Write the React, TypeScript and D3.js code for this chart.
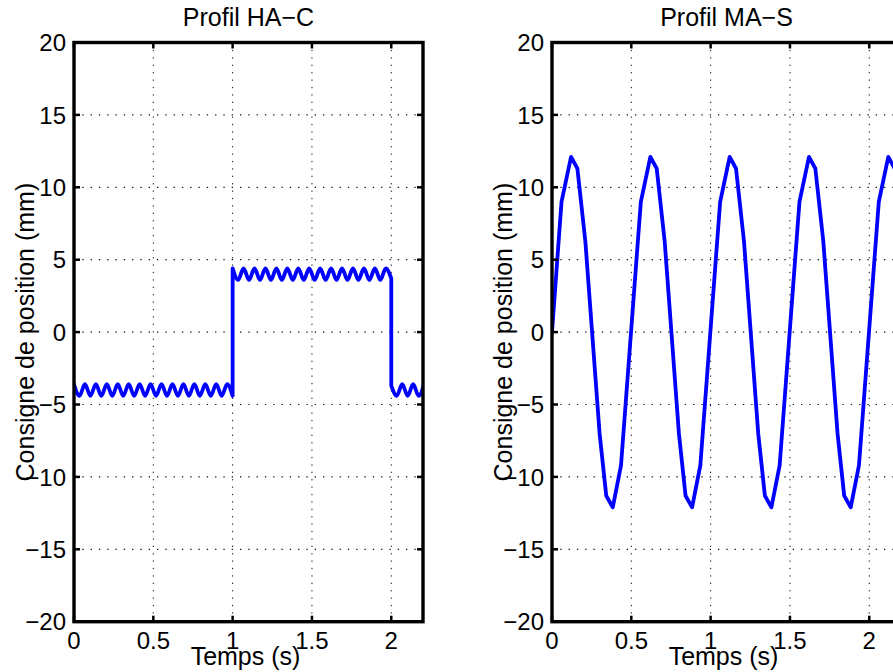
import React from 'react';
import * as d3 from 'd3';

const W = 893;
const H = 672;

const xTicks = [0, 0.5, 1, 1.5, 2];
const yTicks = [-20, -15, -10, -5, 0, 5, 10, 15, 20];
const xDomain = [0, 2.2];
const yDomain = [-20, 20];

const titles = ['Profil HA\u2212C', 'Profil MA\u2212S'];
const xLabel = 'Temps (s)';
const yLabel = 'Consigne de position (mm)';

// Profil HA-C : ripple extremes (repeated time = step)
const haTimes = [
  0, 0.0345, 0.069, 0.1034, 0.1379, 0.1724, 0.2069, 0.2414, 0.2759, 0.3103,
  0.3448, 0.3793, 0.4138, 0.4483, 0.4828, 0.5172, 0.5517, 0.5862, 0.6207, 0.6552,
  0.6897, 0.7241, 0.7586, 0.7931, 0.8276, 0.8621, 0.8966, 0.931, 0.9655, 1.0,
  1.0, 1.0345, 1.069, 1.1034, 1.1379, 1.1724, 1.2069, 1.2414, 1.2759, 1.3103,
  1.3448, 1.3793, 1.4138, 1.4483, 1.4828, 1.5172, 1.5517, 1.5862, 1.6207, 1.6552,
  1.6897, 1.7241, 1.7586, 1.7931, 1.8276, 1.8621, 1.8966, 1.931, 1.9655, 2.0,
  2.0, 2.0345, 2.069, 2.1034, 2.1379, 2.1724, 2.2069,
];
const haValues = [
  -3.6, -4.4, -3.6, -4.4, -3.6, -4.4, -3.6, -4.4, -3.6, -4.4,
  -3.6, -4.4, -3.6, -4.4, -3.6, -4.4, -3.6, -4.4, -3.6, -4.4,
  -3.6, -4.4, -3.6, -4.4, -3.6, -4.4, -3.6, -4.4, -3.6, -4.4,
  4.4, 3.6, 4.4, 3.6, 4.4, 3.6, 4.4, 3.6, 4.4, 3.6,
  4.4, 3.6, 4.4, 3.6, 4.4, 3.6, 4.4, 3.6, 4.4, 3.6,
  4.4, 3.6, 4.4, 3.6, 4.4, 3.6, 4.4, 3.6, 4.4, 3.7,
  -3.7, -4.4, -3.6, -4.4, -3.6, -4.4, -3.6,
];

// Profil MA-S : polyline vertices
const maTimes = [
  0.0, 0.06, 0.12, 0.16, 0.21, 0.3, 0.342, 0.383, 0.435,
  0.56, 0.62, 0.66, 0.71, 0.8, 0.842, 0.883, 0.935,
  1.06, 1.12, 1.16, 1.21, 1.3, 1.342, 1.383, 1.435,
  1.56, 1.62, 1.66, 1.71, 1.8, 1.842, 1.883, 1.935,
  2.06, 2.12, 2.16, 2.21,
];
const maValues = [
  0, 9.0, 12.1, 11.3, 6.3, -7.0, -11.3, -12.1, -9.2,
  9.0, 12.1, 11.3, 6.3, -7.0, -11.3, -12.1, -9.2,
  9.0, 12.1, 11.3, 6.3, -7.0, -11.3, -12.1, -9.2,
  9.0, 12.1, 11.3, 6.3, -7.0, -11.3, -12.1, -9.2,
  9.0, 12.1, 11.3, 6.3,
];

const FONT = '"Liberation Sans", Arial, Helvetica, sans-serif';
const FS_TICK = 24;
const FS_LABEL = 25;

function fmt(v: number) {
  return String(v).replace('-', '\u2212');
}

type PanelProps = {
  id: string;
  left: number;
  right: number;
  top: number;
  bottom: number;
  title: string;
  times: number[];
  values: number[];
  smooth: boolean;
};

function Panel({ id, left, right, top, bottom, title, times, values, smooth }: PanelProps) {
  const x = d3.scaleLinear().domain(xDomain).range([left, right]);
  const y = d3.scaleLinear().domain(yDomain).range([bottom, top]);

  // split into segments where time repeats (vertical steps)
  const segments: [number, number][][] = [];
  let cur: [number, number][] = [];
  times.forEach((t, i) => {
    if (i > 0 && t === times[i - 1]) {
      segments.push(cur);
      cur = [];
    }
    cur.push([t, values[i]]);
  });
  segments.push(cur);

  const line = d3
    .line<[number, number]>()
    .x((d) => x(d[0]))
    .y((d) => y(d[1]))
    .curve(smooth ? d3.curveMonotoneX : d3.curveLinear);

  const path = segments
    .map((seg, i) => {
      const s = line(seg) || '';
      return i === 0 ? s : 'L' + s.slice(1);
    })
    .join('');

  const cx = (left + right) / 2;
  const cy = (top + bottom) / 2;
  const tickLen = 6;
  const grid = '#111';

  return (
    <g>
      <defs>
        <clipPath id={id}>
          <rect x={left} y={top} width={right - left} height={bottom - top} />
        </clipPath>
      </defs>
      {/* grid */}
      {xTicks.map((t) => (
        <line key={'gx' + t} x1={x(t)} x2={x(t)} y1={top} y2={bottom}
          stroke={grid} strokeWidth={1} strokeDasharray="1.3 6.1" />
      ))}
      {yTicks.map((t) => (
        <line key={'gy' + t} x1={left} x2={right} y1={y(t)} y2={y(t)}
          stroke={grid} strokeWidth={1.2} strokeDasharray="1.3 7" />
      ))}
      {/* data */}
      <path d={path} fill="none" stroke="#0000ff" strokeWidth={3.8}
        strokeLinejoin="round" strokeLinecap="round" clipPath={`url(#${id})`} />
      {/* ticks */}
      {xTicks.map((t) => (
        <g key={'tx' + t}>
          <line x1={x(t)} x2={x(t)} y1={bottom} y2={bottom - tickLen} stroke="#000" strokeWidth={2.5} />
          <line x1={x(t)} x2={x(t)} y1={top} y2={top + tickLen} stroke="#000" strokeWidth={2.5} />
        </g>
      ))}
      {yTicks.map((t) => (
        <g key={'ty' + t}>
          <line x1={left} x2={left + tickLen} y1={y(t)} y2={y(t)} stroke="#000" strokeWidth={2.5} />
          <line x1={right} x2={right - tickLen} y1={y(t)} y2={y(t)} stroke="#000" strokeWidth={2.5} />
        </g>
      ))}
      {/* box */}
      <rect x={left} y={top} width={right - left} height={bottom - top}
        fill="none" stroke="#000" strokeWidth={3.4} />
      {/* tick labels */}
      {xTicks.map((t) => (
        <text key={'lx' + t} x={x(t)} y={bottom + 27} textAnchor="middle"
          fontFamily={FONT} fontSize={FS_TICK} fill="#000">{fmt(t)}</text>
      ))}
      {yTicks.map((t) => (
        <text key={'ly' + t} x={left - 8} y={y(t)} dy="0.36em" textAnchor="end"
          fontFamily={FONT} fontSize={FS_TICK} fill="#000">{fmt(t)}</text>
      ))}
      {/* labels */}
      <text x={cx} y={26} textAnchor="middle" fontFamily={FONT} fontSize={FS_LABEL} fill="#000">{title}</text>
      <text x={cx - 3} y={bottom + 43} textAnchor="middle" fontFamily={FONT} fontSize={FS_LABEL} fill="#000">{xLabel}</text>
      <text transform={`translate(${left - 40},${cy}) rotate(-90)`} textAnchor="middle"
        fontFamily={FONT} fontSize={FS_LABEL} fill="#000">{yLabel}</text>
    </g>
  );
}

export default function App() {
  const top = 42.5;
  const bottom = 621.7;
  return (
    <svg width={W} height={H} viewBox={`0 0 ${W} ${H}`}
      style={{ position: 'absolute', left: 0, top: 0, background: '#fff' }}>
      <rect x={0} y={0} width={W} height={H} fill="#fff" />
      <Panel id="clipA" left={74} right={423} top={top} bottom={bottom}
        title={titles[0]} times={haTimes} values={haValues} smooth={true} />
      <Panel id="clipB" left={552} right={901} top={top} bottom={bottom}
        title={titles[1]} times={maTimes} values={maValues} smooth={false} />
    </svg>
  );
}
